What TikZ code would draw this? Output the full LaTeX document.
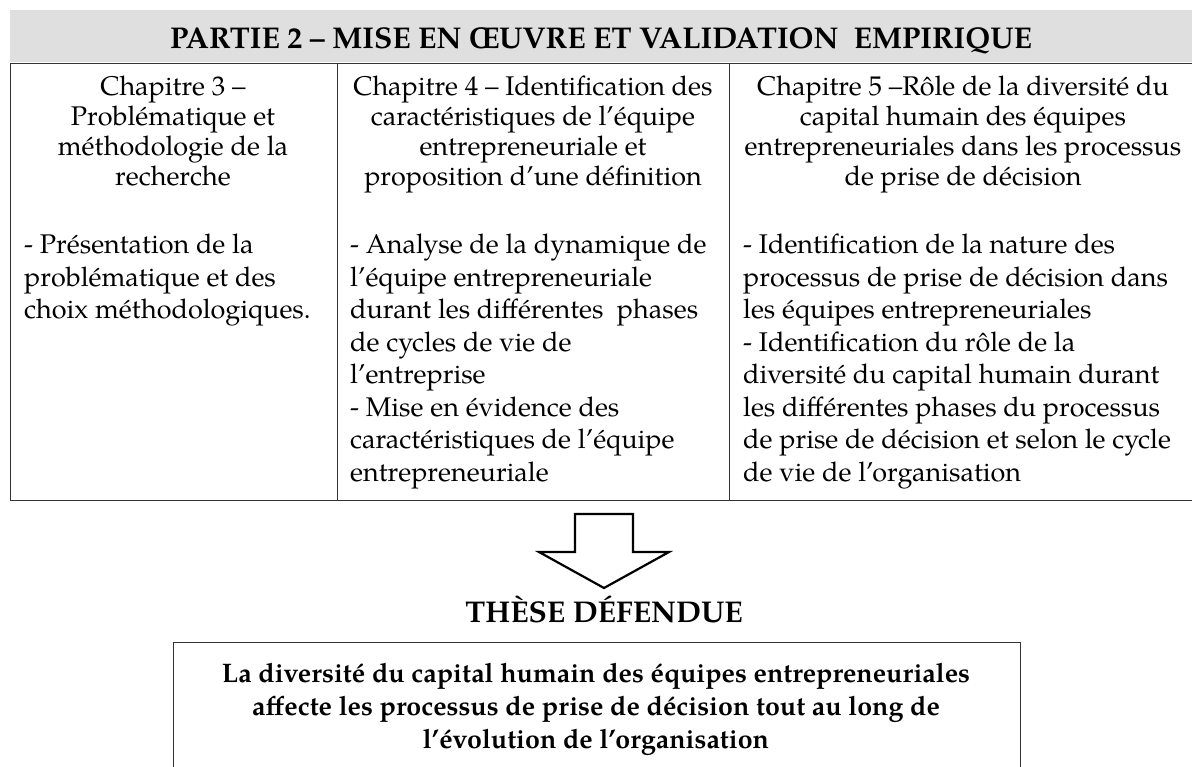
\documentclass[tikz,border=0pt]{standalone}
\usepackage{fontspec}
\setmainfont{TeX Gyre Pagella}
\begin{document}
\begin{tikzpicture}[x=1pt,y=-1pt,
  cell/.style={draw=black!80, line width=1.4pt, inner sep=0pt, anchor=north west},
  upper/.style={font=\fontsize{27}{30}\selectfont, inner sep=0pt, anchor=north, align=center},
  lower/.style={font=\fontsize{27}{32.5}\selectfont, inner sep=0pt, anchor=north west, align=left},
  hdr/.style={font=\fontsize{30}{36}\selectfont\bfseries, inner sep=0pt},
  concl/.style={font=\fontsize{26.8}{33}\selectfont\bfseries, inner sep=0pt, anchor=north, align=center}]
\useasboundingbox (0,0) rectangle (1192,767);
% header band
\fill[gray!25] (10,10) rectangle (1210,62);
\node[hdr, anchor=base] (title) at (601,49) {PARTIE 2 – MISE EN ŒUVRE ET VALIDATION\ \ EMPIRIQUE};
% table cells
\node[cell, minimum width=327pt, minimum height=437pt] (c1) at (10,63) {};
\node[cell, minimum width=392pt, minimum height=437pt] (c2) at (337,63) {};
\node[cell, minimum width=481pt, minimum height=437pt] (c3) at (729,63) {};
% column 1
\node[upper] (t1a) at (173,74) {\strut Chapitre 3 –\\Problématique et\\méthodologie de la\\recherche};
\node[lower] (t1b) at (24,231) {\strut - Présentation de la\\problématique et des\\choix méthodologiques.};
% column 2
\node[upper] (t2a) at (533,74) {\strut Chapitre 4 – Identification des\\caractéristiques de l’équipe\\entrepreneuriale et\\proposition d’une définition};
\node[lower] (t2b) at (350,231) {\strut - Analyse de la dynamique de\\l’équipe entrepreneuriale\\durant les différentes\ \ phases\\de cycles de vie de\\l’entreprise\\- Mise en évidence des\\caractéristiques de l’équipe\\entrepreneuriale};
% column 3
\node[upper] (t3a) at (963,74) {\strut Chapitre 5 –Rôle de la diversité du\\capital humain des équipes\\entrepreneuriales dans les processus\\de prise de décision};
\node[lower] (t3b) at (743,231) {\strut - Identification de la nature des\\processus de prise de décision dans\\les équipes entrepreneuriales\\- Identification du rôle de la\\diversité du capital humain durant\\les différentes phases du processus\\de prise de décision et selon le cycle\\de vie de l’organisation};
% block arrow
\coordinate (tip) at (604,588);
\draw[line width=2.2pt, line join=miter] (575,514) -- (633,514) -- (633,552) -- (669,552) -- (tip) -- (539,552) -- (575,552) -- cycle;
\node[hdr, anchor=base] (these) at (604,622) {THÈSE DÉFENDUE};
% conclusion box
\node[cell, minimum width=847pt, minimum height=200pt] (box) at (173,642) {};
\node[concl] (ctext) at (596,659) {\strut La diversité du capital humain des équipes entrepreneuriales\\affecte les processus de prise de décision tout au long de\\l’évolution de l’organisation};
\end{tikzpicture}
\end{document}
